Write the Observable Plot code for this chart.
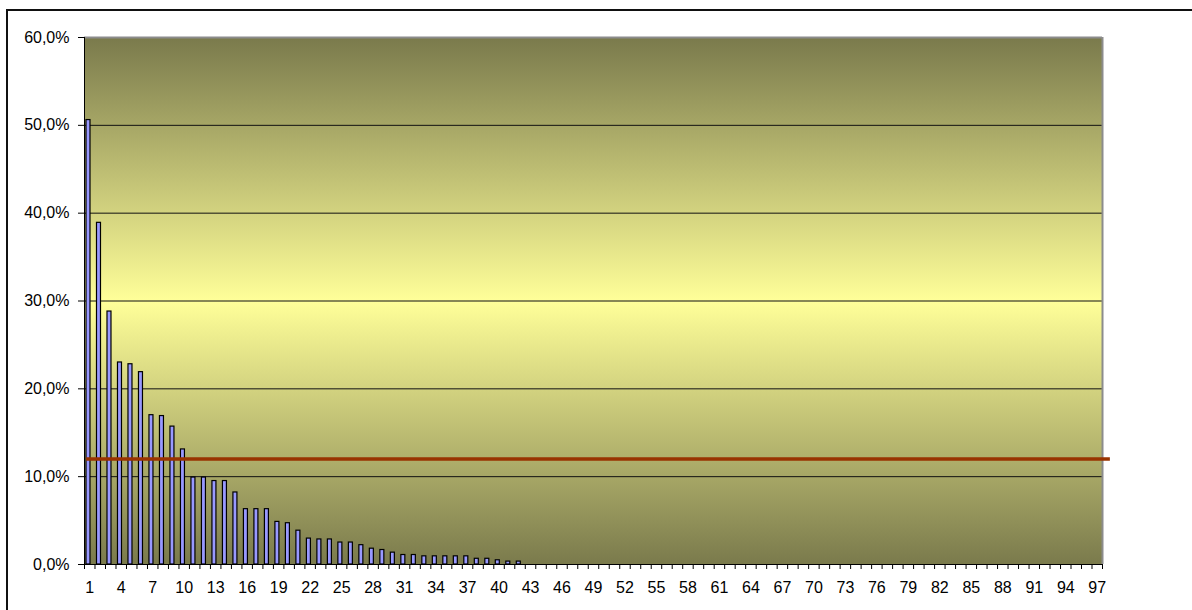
<!DOCTYPE html>
<html>
<head>
<meta charset="utf-8">
<script src="https://cdn.jsdelivr.net/npm/d3@7"></script>
<script src="https://cdn.jsdelivr.net/npm/@observablehq/plot@0.6"></script>
<style>
html, body { margin: 0; padding: 0; background: #fff; overflow: hidden; }
#frame { position: absolute; left: 6px; top: 9px; width: 1400px; height: 800px; border-left: 2px solid #111; border-top: 2px solid #111; }
#chart { position: absolute; left: 0; top: 0; }
</style>
</head>
<body>
<div id="frame"></div>
<div id="chart"></div>
<script>
// Categories 1..97
const categories = d3.range(1, 98);
// Share per category (%)
const shares = [
  50.6, 38.9, 28.8, 23.0, 22.8, 21.9, 17.0, 16.9, 15.7, 13.1,
  9.9, 9.9, 9.5, 9.5, 8.2, 6.3, 6.3, 6.3, 4.85, 4.7,
  3.85, 2.95, 2.85, 2.85, 2.5, 2.5, 2.2, 1.8, 1.65, 1.35,
  1.08, 1.08, 0.93, 0.93, 0.93, 0.93, 0.93, 0.65, 0.65, 0.48,
  0.33, 0.33, 0, 0, 0, 0, 0, 0, 0, 0,
  0, 0, 0, 0, 0, 0, 0, 0, 0, 0,
  0, 0, 0, 0, 0, 0, 0, 0, 0, 0,
  0, 0, 0, 0, 0, 0, 0, 0, 0, 0,
  0, 0, 0, 0, 0, 0, 0, 0, 0, 0,
  0, 0, 0, 0, 0, 0, 0
];
const averageShare = 12.0;
const yTicks = [0, 10, 20, 30, 40, 50, 60];
const xTickLabels = categories.filter((c, i) => i % 3 === 0);

const data = categories.map((c, i) => ({c, v: shares[i]}));
const xStart = categories[0] - 0.5;
const xEnd = categories[categories.length - 1] + 0.5;
const boundaries = [...categories.map(c => c - 0.5), xEnd];

const plot = Plot.plot({
  width: 1192,
  height: 610,
  marginLeft: 84,
  marginRight: 90,
  marginTop: 37,
  marginBottom: 46,
  style: {fontFamily: "'Liberation Sans', Arial, sans-serif", fontSize: "16px", color: "#000", background: "transparent", overflow: "visible"},
  x: {type: "linear", domain: [xStart, xEnd], label: null},
  y: {domain: [0, 60], label: null},
  marks: [
    Plot.frame({fill: "url(#bgGrad)", stroke: null}),
    Plot.ruleY(yTicks.filter(t => t > 0 && t < 60), {stroke: "#111", strokeWidth: 1}),
    Plot.ruleY([60], {stroke: "#8c8c8c", strokeWidth: 2}),
    Plot.ruleX([xEnd], {stroke: "#8c8c8c", strokeWidth: 2}),
    Plot.rectY(data.filter(d => d.v > 0), {
      x1: d => d.c - 0.5, x2: d => d.c + 0.5, y1: 0, y2: "v",
      fill: "#9999ff", stroke: "#000", strokeWidth: 1.2, insetLeft: 2.0, insetRight: 4.5
    }),
    Plot.ruleX([xStart], {stroke: "#000", strokeWidth: 1}),
    Plot.ruleY([0], {stroke: "#000", strokeWidth: 1}),
    Plot.ruleY([averageShare], {x1: xStart + 0.2, x2: xEnd + 0.75, stroke: "#993300", strokeWidth: 3.5}),
    Plot.axisY({ticks: yTicks, tickSize: 6, tickPadding: 9, tickFormat: d => d.toFixed(1).replace(".", ",") + "%", fontSize: 16}),
    Plot.axisX({ticks: boundaries, tickSize: 5, tickFormat: () => ""}),
    Plot.axisX({ticks: xTickLabels, tickSize: 0, tickPadding: 17, tickFormat: d => String(d), fontSize: 16})
  ]
});

d3.select(plot).insert("defs", ":first-child").html(
  '<linearGradient id="bgGrad" x1="0" y1="0" x2="0" y2="1">' +
  '<stop offset="0" stop-color="#7a7a4c"/>' +
  '<stop offset="0.5" stop-color="#ffff99"/>' +
  '<stop offset="1" stop-color="#7a7a4c"/>' +
  '</linearGradient>'
);

document.getElementById("chart").appendChild(plot);
</script>
</body>
</html>
